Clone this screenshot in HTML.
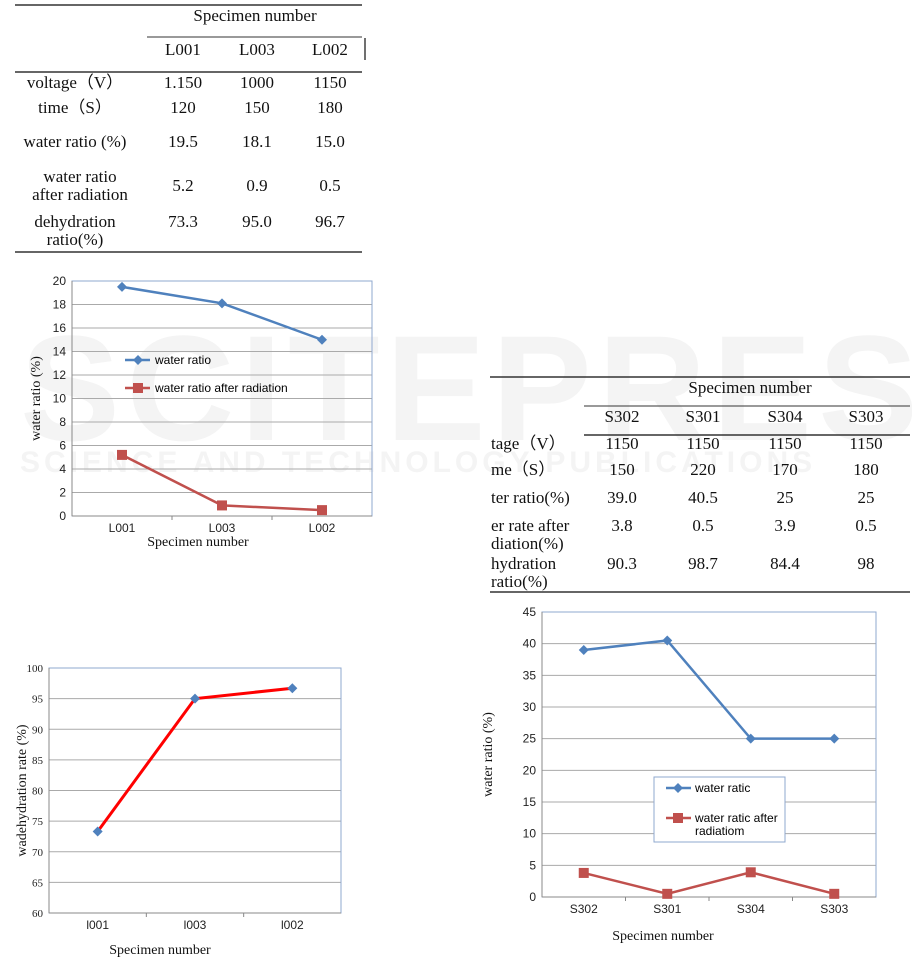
<!DOCTYPE html>
<html><head><meta charset="utf-8"><style>
body{margin:0;background:#fff;}
svg{display:block;font-family:"Liberation Serif",serif;}
</style></head><body>
<svg id="s" width="912" height="964" viewBox="0 0 912 964">
<g fill="#f4f4f4" font-family="Liberation Sans,sans-serif" font-weight="bold">
<text x="20" y="440" font-size="150" letter-spacing="6">SCITEPRESS</text>
<text x="20" y="472" font-size="30" letter-spacing="4">SCIENCE AND TECHNOLOGY PUBLICATIONS</text>
</g>
<g id="t1" font-size="17" fill="#111"></g>
<g id="t2" font-size="17" fill="#111"></g>
<g id="c1"></g>
<g id="c2"></g>
<g id="c3"></g>
</svg>
<script>
const lCats=["L001","L003","L002"];
const lWater=[19.5,18.1,15.0];
const lAfter=[5.2,0.9,0.5];
const lDehyd=[73.3,95.0,96.7];
const lTicks1=[0,2,4,6,8,10,12,14,16,18,20];
const lTicks2=[60,65,70,75,80,85,90,95,100];
const sCats=["S302","S301","S304","S303"];
const sWater=[39.0,40.5,25,25];
const sAfter=[3.8,0.5,3.9,0.5];
const sTicks=[0,5,10,15,20,25,30,35,40,45];
const NS="http://www.w3.org/2000/svg";
function mk(p,tag,a,txt){const e=document.createElementNS(NS,tag);for(const k in a)e.setAttribute(k,a[k]);if(txt!==undefined)e.textContent=txt;p.appendChild(e);return e;}
function line(p,x1,y1,x2,y2,st,w){return mk(p,'line',{x1,y1,x2,y2,stroke:st,'stroke-width':w||1});}
function txt(p,x,y,s,o){const a=Object.assign({x,y,'text-anchor':'middle'},o||{});return mk(p,'text',a,s);}

// Table 1
const t1=document.getElementById('t1');
line(t1,15,5,362,5,'#333',1.5);line(t1,147,37,362,37,'#333',1);line(t1,15,72,362,72,'#333',1.5);line(t1,15,252,362,252,'#333',1.5);
line(t1,365,38,365,60,'#111',1.2);
txt(t1,255,21,"Specimen number");
const c1x=[183,257,330];
lCats.forEach((c,i)=>{const e=txt(t1,c1x[i],55,c);});
const r1=[["voltage（V）","1.150","1000","1150",88],["time（S）","120","150","180",113],["water ratio (%)","19.5","18.1","15.0",147]];
r1.forEach(r=>{txt(t1,75,r[4],r[0]);for(let i=0;i<3;i++)txt(t1,c1x[i],r[4],r[i+1]);});
txt(t1,80,182,"water ratio");txt(t1,80,200,"after radiation");
["5.2","0.9","0.5"].forEach((v,i)=>txt(t1,c1x[i],191,v));
txt(t1,75,227,"dehydration");txt(t1,75,245,"ratio(%)");
lDehyd.forEach((v,i)=>txt(t1,c1x[i],227,v.toFixed(1)));

// Table 2
const t2=document.getElementById('t2');
line(t2,490,377,910,377,'#333',1.5);line(t2,584,406,910,406,'#333',1);line(t2,584,435,910,435,'#333',1.5);line(t2,490,592,910,592,'#333',1.5);
txt(t2,750,393,"Specimen number");
const c2x=[622,703,785,866];
sCats.forEach((c,i)=>txt(t2,c2x[i],422,c));
const r2=[["tage（V）",["1150","1150","1150","1150"],449],["me（S）",["150","220","170","180"],475],["ter ratio(%)",["39.0","40.5","25","25"],503]];
r2.forEach(r=>{txt(t2,491,r[2],r[0],{'text-anchor':'start'});r[1].forEach((v,i)=>txt(t2,c2x[i],r[2],v));});
txt(t2,491,531,"er rate after",{'text-anchor':'start'});txt(t2,491,549,"diation(%)",{'text-anchor':'start'});
["3.8","0.5","3.9","0.5"].forEach((v,i)=>txt(t2,c2x[i],531,v));
txt(t2,491,569,"hydration",{'text-anchor':'start'});txt(t2,491,587,"ratio(%)",{'text-anchor':'start'});
["90.3","98.7","84.4","98"].forEach((v,i)=>txt(t2,c2x[i],569,v));

function chart(g,o){
  const {x0,x1,y0,y1,min,max,ticks,cats,series}=o;
  const yS=v=>y1-(v-min)/(max-min)*(y1-y0);
  const band=(x1-x0)/cats.length;
  const xS=i=>x0+band*(i+0.5);
  ticks.forEach(t=>{if(t!==min){const l=line(g,x0,yS(t),x1,yS(t),o.grid||'#aaa',1);}
    const e=txt(g,x0-6,yS(t)+4,String(t),{'text-anchor':'end','font-size':o.tfs||12,'font-family':o.tf||'Liberation Sans,sans-serif',fill:'#222'});
    });
  mk(g,'rect',{x:x0,y:y0,width:x1-x0,height:y1-y0,fill:'none',stroke:'#8fa8cf','stroke-width':1});
  line(g,x0,y1,x1,y1,'#888',1);line(g,x0,y0,x0,y1,'#888',1);
  for(let i=1;i<cats.length;i++)line(g,x0+band*i,y1,x0+band*i,y1+4,'#888',1);
  cats.forEach((c,i)=>{const e=txt(g,xS(i),y1+16,c,{'font-size':12,'font-family':'Liberation Sans,sans-serif',fill:'#222'});});
  series.forEach(s=>{
    const pts=s.vals.map((v,i)=>xS(i)+','+yS(v)).join(' ');
    const pl=mk(g,'polyline',{points:pts,fill:'none',stroke:s.color,'stroke-width':s.w||2.5});
    
    s.vals.forEach((v,i)=>{const x=xS(i),y=yS(v);let m;
      if(s.marker==='sq')m=mk(g,'rect',{x:x-5,y:y-5,width:10,height:10,fill:'#c0504d'});
      else m=mk(g,'polygon',{points:`${x},${y-5} ${x+5},${y} ${x},${y+5} ${x-5},${y}`,fill:'#4f81bd'});
      });
  });
  const yt=txt(g,o.ylx,(y0+y1)/2,o.ylabel,{transform:`rotate(-90 ${o.ylx} ${(y0+y1)/2})`,'font-size':14,fill:'#111'});
  
  const xt=txt(g,o.xlx,o.xly,"Specimen number",{'font-size':14,fill:'#111'});
  
}
const g1=document.getElementById('c1');
chart(g1,{x0:72,x1:372,y0:281,y1:516,min:0,max:20,ticks:lTicks1,cats:lCats,ylabel:"water ratio (%)",ylx:40,xlx:198,xly:546,
 series:[{vals:lWater,color:'#4f81bd',marker:'dia',name:'water-ratio'},{vals:lAfter,color:'#c0504d',marker:'sq',name:'water-ratio-after'}]});
line(g1,125,360,150,360,'#4f81bd',2.5);mk(g1,'polygon',{points:'138,355 143,360 138,365 133,360',fill:'#4f81bd'});
txt(g1,155,364,"water ratio",{'text-anchor':'start','font-size':12,'font-family':'Liberation Sans,sans-serif'});
line(g1,125,388,150,388,'#c0504d',2.5);mk(g1,'rect',{x:133,y:383,width:10,height:10,fill:'#c0504d'});
txt(g1,155,392,"water ratio after radiation",{'text-anchor':'start','font-size':12,'font-family':'Liberation Sans,sans-serif'});

chart(document.getElementById('c2'),{x0:49,x1:341,y0:668,y1:913,min:60,max:100,ticks:lTicks2,cats:["l001","l003","l002"],ylabel:"wadehydration rate (%)",ylx:26,xlx:160,xly:954,tf:'Liberation Serif,serif',tfs:11,
 series:[{vals:lDehyd,color:'#ff0000',marker:'dia',name:'dehydration',w:3}]});

const g3=document.getElementById('c3');
chart(g3,{x0:542,x1:876,y0:612,y1:897,min:0,max:45,ticks:sTicks,cats:sCats,ylabel:"water ratio (%)",ylx:492,xlx:663,xly:940,
 series:[{vals:sWater,color:'#4f81bd',marker:'dia',name:'water-ratio-s'},{vals:sAfter,color:'#c0504d',marker:'sq',name:'water-ratio-after-s'}]});
const lg=mk(g3,'g',{});
mk(lg,'rect',{x:654,y:777,width:131,height:65,fill:'#fff',stroke:'#8fa8cf'});
line(lg,666,788,691,788,'#4f81bd',2.5);mk(lg,'polygon',{points:'678,783 683,788 678,793 673,788',fill:'#4f81bd'});
txt(lg,695,792,"water ratic",{'text-anchor':'start','font-size':12,'font-family':'Liberation Sans,sans-serif'});
line(lg,666,818,691,818,'#c0504d',2.5);mk(lg,'rect',{x:673,y:813,width:10,height:10,fill:'#c0504d'});
txt(lg,695,822,"water ratic after",{'text-anchor':'start','font-size':12,'font-family':'Liberation Sans,sans-serif'});
txt(lg,695,835,"radiatiom",{'text-anchor':'start','font-size':12,'font-family':'Liberation Sans,sans-serif'});
</script>
</body></html>
